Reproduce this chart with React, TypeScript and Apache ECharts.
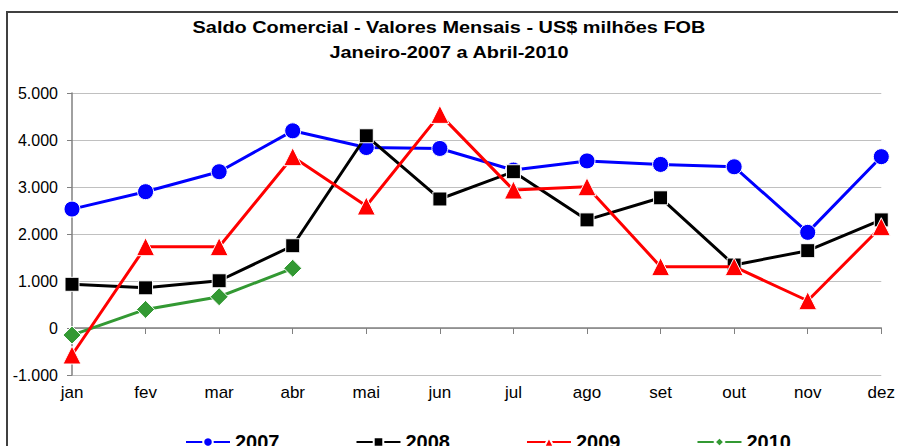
import React, { useEffect, useRef } from "react";
import * as echarts from "echarts";

const months = ["jan", "fev", "mar", "abr", "mai", "jun", "jul", "ago", "set", "out", "nov", "dez"];
const s2007 = [2530, 2900, 3325, 4195, 3840, 3820, 3360, 3555, 3480, 3430, 2035, 3645];
const s2008 = [930, 855, 1005, 1750, 4090, 2745, 3325, 2300, 2770, 1340, 1645, 2300];
const s2009 = [-575, 1730, 1730, 3645, 2595, 4545, 2935, 3005, 1305, 1305, 580, 2155];
const s2010 = [-150, 395, 665, 1270];
const titleLines = ["Saldo Comercial - Valores Mensais - US$ milhões FOB", "Janeiro-2007 a Abril-2010"];

const FONT = "'Liberation Sans', Arial, sans-serif";

export default function App() {
  const ref = useRef<HTMLDivElement>(null);
  useEffect(() => {
    const chart = echarts.init(ref.current!, null, { renderer: "svg" });
    const fmt = (v: number) => {
      const neg = v < 0;
      const s = Math.abs(v).toString().replace(/\B(?=(\d{3})+(?!\d))/g, ".");
      return (neg ? "-" : "") + s;
    };
    const mk = (name: string, data: number[], color: string, symbol: string, size: number, z: number) => ({
      name,
      type: "line",
      data,
      xAxisIndex: 0,
      symbol,
      symbolSize: size,
      z,
      lineStyle: { color, width: 3 },
      itemStyle: { color, borderColor: "#ffffff", borderWidth: 1 },
      emphasis: { disabled: true },
    });
    chart.setOption({
      animation: false,
      textStyle: { fontFamily: FONT },
      graphic: [
        {
          type: "rect",
          shape: { x: 7, y: 12, width: 900, height: 450 },
          style: { fill: "none", stroke: "#404040", lineWidth: 2 },
          silent: true,
          z: -1,
        },
        {
          type: "text",
          x: 449,
          y: 27,
          scaleX: 1.17,
          silent: true,
          style: {
            text: titleLines[0],
            fill: "#000",
            font: "bold 17px " + FONT,
            textAlign: "center",
            textVerticalAlign: "middle",
          },
        },
        {
          type: "text",
          x: 449,
          y: 52,
          scaleX: 1.17,
          silent: true,
          style: {
            text: titleLines[1],
            fill: "#000",
            font: "bold 17px " + FONT,
            textAlign: "center",
            textVerticalAlign: "middle",
          },
        },
      ],
      legend: {
        top: 427,
        left: 180,
        itemWidth: 44,
        itemHeight: 12,
        itemGap: 76,
        textStyle: { fontSize: 20, fontWeight: "bold", color: "#000", fontFamily: FONT },
        data: ["2007", "2008", "2009", "2010"],
      },
      grid: { left: 72, right: 16, top: 93, bottom: 71 },
      xAxis: [
        {
          type: "category",
          data: months,
          boundaryGap: false,
          position: "bottom",
          axisLine: { show: false, onZero: false },
          axisTick: { show: false },
          axisLabel: { fontSize: 17, color: "#000", margin: 9, fontFamily: FONT },
          splitLine: { show: false },
        },
        {
          type: "category",
          data: months,
          boundaryGap: false,
          position: "bottom",
          axisLine: { show: true, onZero: true, lineStyle: { color: "#808080", width: 1.5 } },
          axisTick: { show: true, length: 6, lineStyle: { color: "#808080" } },
          axisLabel: { show: false },
          splitLine: { show: false },
        },
      ],
      yAxis: {
        type: "value",
        min: -1000,
        max: 5000,
        interval: 1000,
        axisLine: { show: true, lineStyle: { color: "#808080", width: 1.5 } },
        axisTick: { show: true, length: 5, lineStyle: { color: "#808080" } },
        axisLabel: { fontSize: 16, color: "#000", margin: 14, formatter: fmt, fontFamily: FONT },
        splitLine: { show: true, lineStyle: { color: "#c0c0c0", width: 1 } },
      },
      series: [
        mk("2007", s2007, "#0000ff", "circle", 16, 2),
        mk("2008", s2008, "#000000", "rect", 14, 3),
        mk("2009", s2009, "#ff0000", "triangle", 18, 5),
        mk("2010", s2010, "#339933", "diamond", 18, 4),
      ],
    });
    return () => chart.dispose();
  }, []);
  return <div ref={ref} style={{ position: "fixed", left: 0, top: 0, width: 898, height: 446, background: "#fff" }} />;
}
